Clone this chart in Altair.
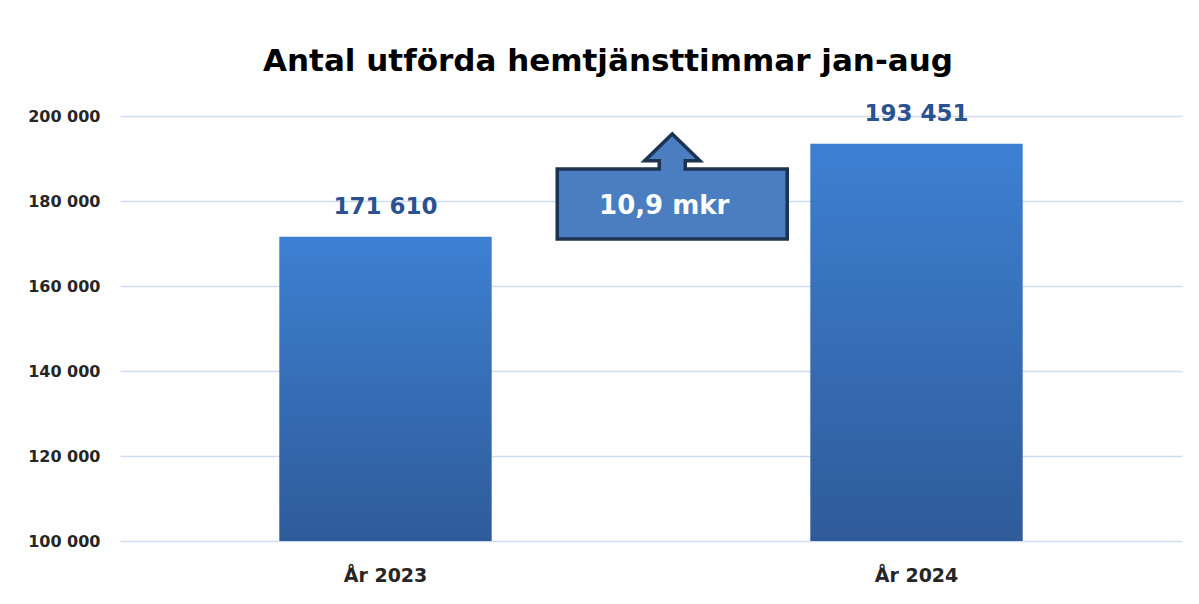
import altair as alt
import pandas as pd

categories = ["År 2023", "År 2024"]
values = [171610, 193451]
value_labels = ["171 610", "193 451"]
y_ticks = [100000, 120000, 140000, 160000, 180000, 200000]

ann_x = [0.52]
ann_y = [183400]
ann_text_y = [178800]
ann_text = ["10,9 mkr"]

df = pd.DataFrame({"cat": categories, "val": values, "lab": value_labels})
ann = pd.DataFrame({"ax": ann_x, "ay": ann_y, "ty": ann_text_y, "t": ann_text})

FONT = "DejaVu Sans"

yscale = alt.Scale(domain=[100000, 200000], nice=False, zero=False)
yaxis = alt.Axis(values=y_ticks, labelExpr="replace(format(datum.value, ',d'), ',', ' ')",
                 title=None, domain=False, ticks=False, labelPadding=20,
                 minExtent=107, maxExtent=107,
                 labelFont=FONT, labelFontSize=16, labelFontWeight="bold", labelColor="#262626",
                 gridColor="#d0ddf0", gridWidth=1.3)

xenc = alt.X("cat:N", sort=categories,
             scale=alt.Scale(paddingInner=0.6, paddingOuter=0.3),
             axis=alt.Axis(title=None, domain=False, ticks=False, labelAngle=0, labelPadding=25,
                           labelFont=FONT, labelFontSize=19, labelFontWeight="bold", labelColor="#262626"))

grad = alt.Gradient(gradient="linear", x1=0, x2=0, y1=0, y2=1,
                    stops=[alt.GradientStop(color="#3d80d2", offset=0),
                           alt.GradientStop(color="#2f5b9a", offset=1)])

bars = alt.Chart(df).mark_bar(color=grad, clip=True).encode(
    x=xenc,
    y=alt.Y("val:Q", scale=yscale, axis=yaxis),
    y2=alt.datum(100000),
)

labels = alt.Chart(df).mark_text(font=FONT, fontSize=23, fontWeight="bold", color="#2b5290",
                                 dy=-30).encode(
    x=alt.X("cat:N", sort=categories),
    y=alt.Y("val:Q", scale=yscale),
    text="lab:N",
)

callout_path = ("M -1,-0.152 L -0.113,-0.152 L -0.113,-0.224 L -0.24,-0.224 L 0,-0.457 "
                "L 0.24,-0.224 L 0.113,-0.224 L 0.113,-0.152 L 1,-0.152 L 1,0.4565 L -1,0.4565 Z")

xq = alt.Scale(domain=[0, 1])
callout = alt.Chart(ann).mark_point(shape=callout_path, size=52900, filled=True,
                                    fill="#4a7ec0", stroke="#1c3352", strokeWidth=3.5,
                                    opacity=1, strokeJoin="miter").encode(
    x=alt.X("ax:Q", scale=xq, axis=None),
    y=alt.Y("ay:Q", scale=yscale),
)
callout_text = alt.Chart(ann).mark_text(font=FONT, fontSize=26, fontWeight="bold", color="white",
                                        dx=-8).encode(
    x=alt.X("ax:Q", scale=xq, axis=None),
    y=alt.Y("ty:Q", scale=yscale),
    text="t:N",
)

base = alt.layer(bars, labels).resolve_scale(x="shared")
chart = alt.layer(base, alt.layer(callout, callout_text)).resolve_scale(x="independent").properties(
    width=1062, height=425,
    title=alt.TitleParams("Antal utförda hemtjänsttimmar jan-aug", font=FONT, fontSize=31,
                          fontWeight="bold", color="#000000", anchor="middle", frame="group",
                          dx=-43, offset=25),
    padding={"left": 5, "top": 37, "right": 5, "bottom": 5},
    background="white",
).configure_view(stroke=None)

chart.save("out.html", embed_options={"renderer": "svg", "actions": False})
